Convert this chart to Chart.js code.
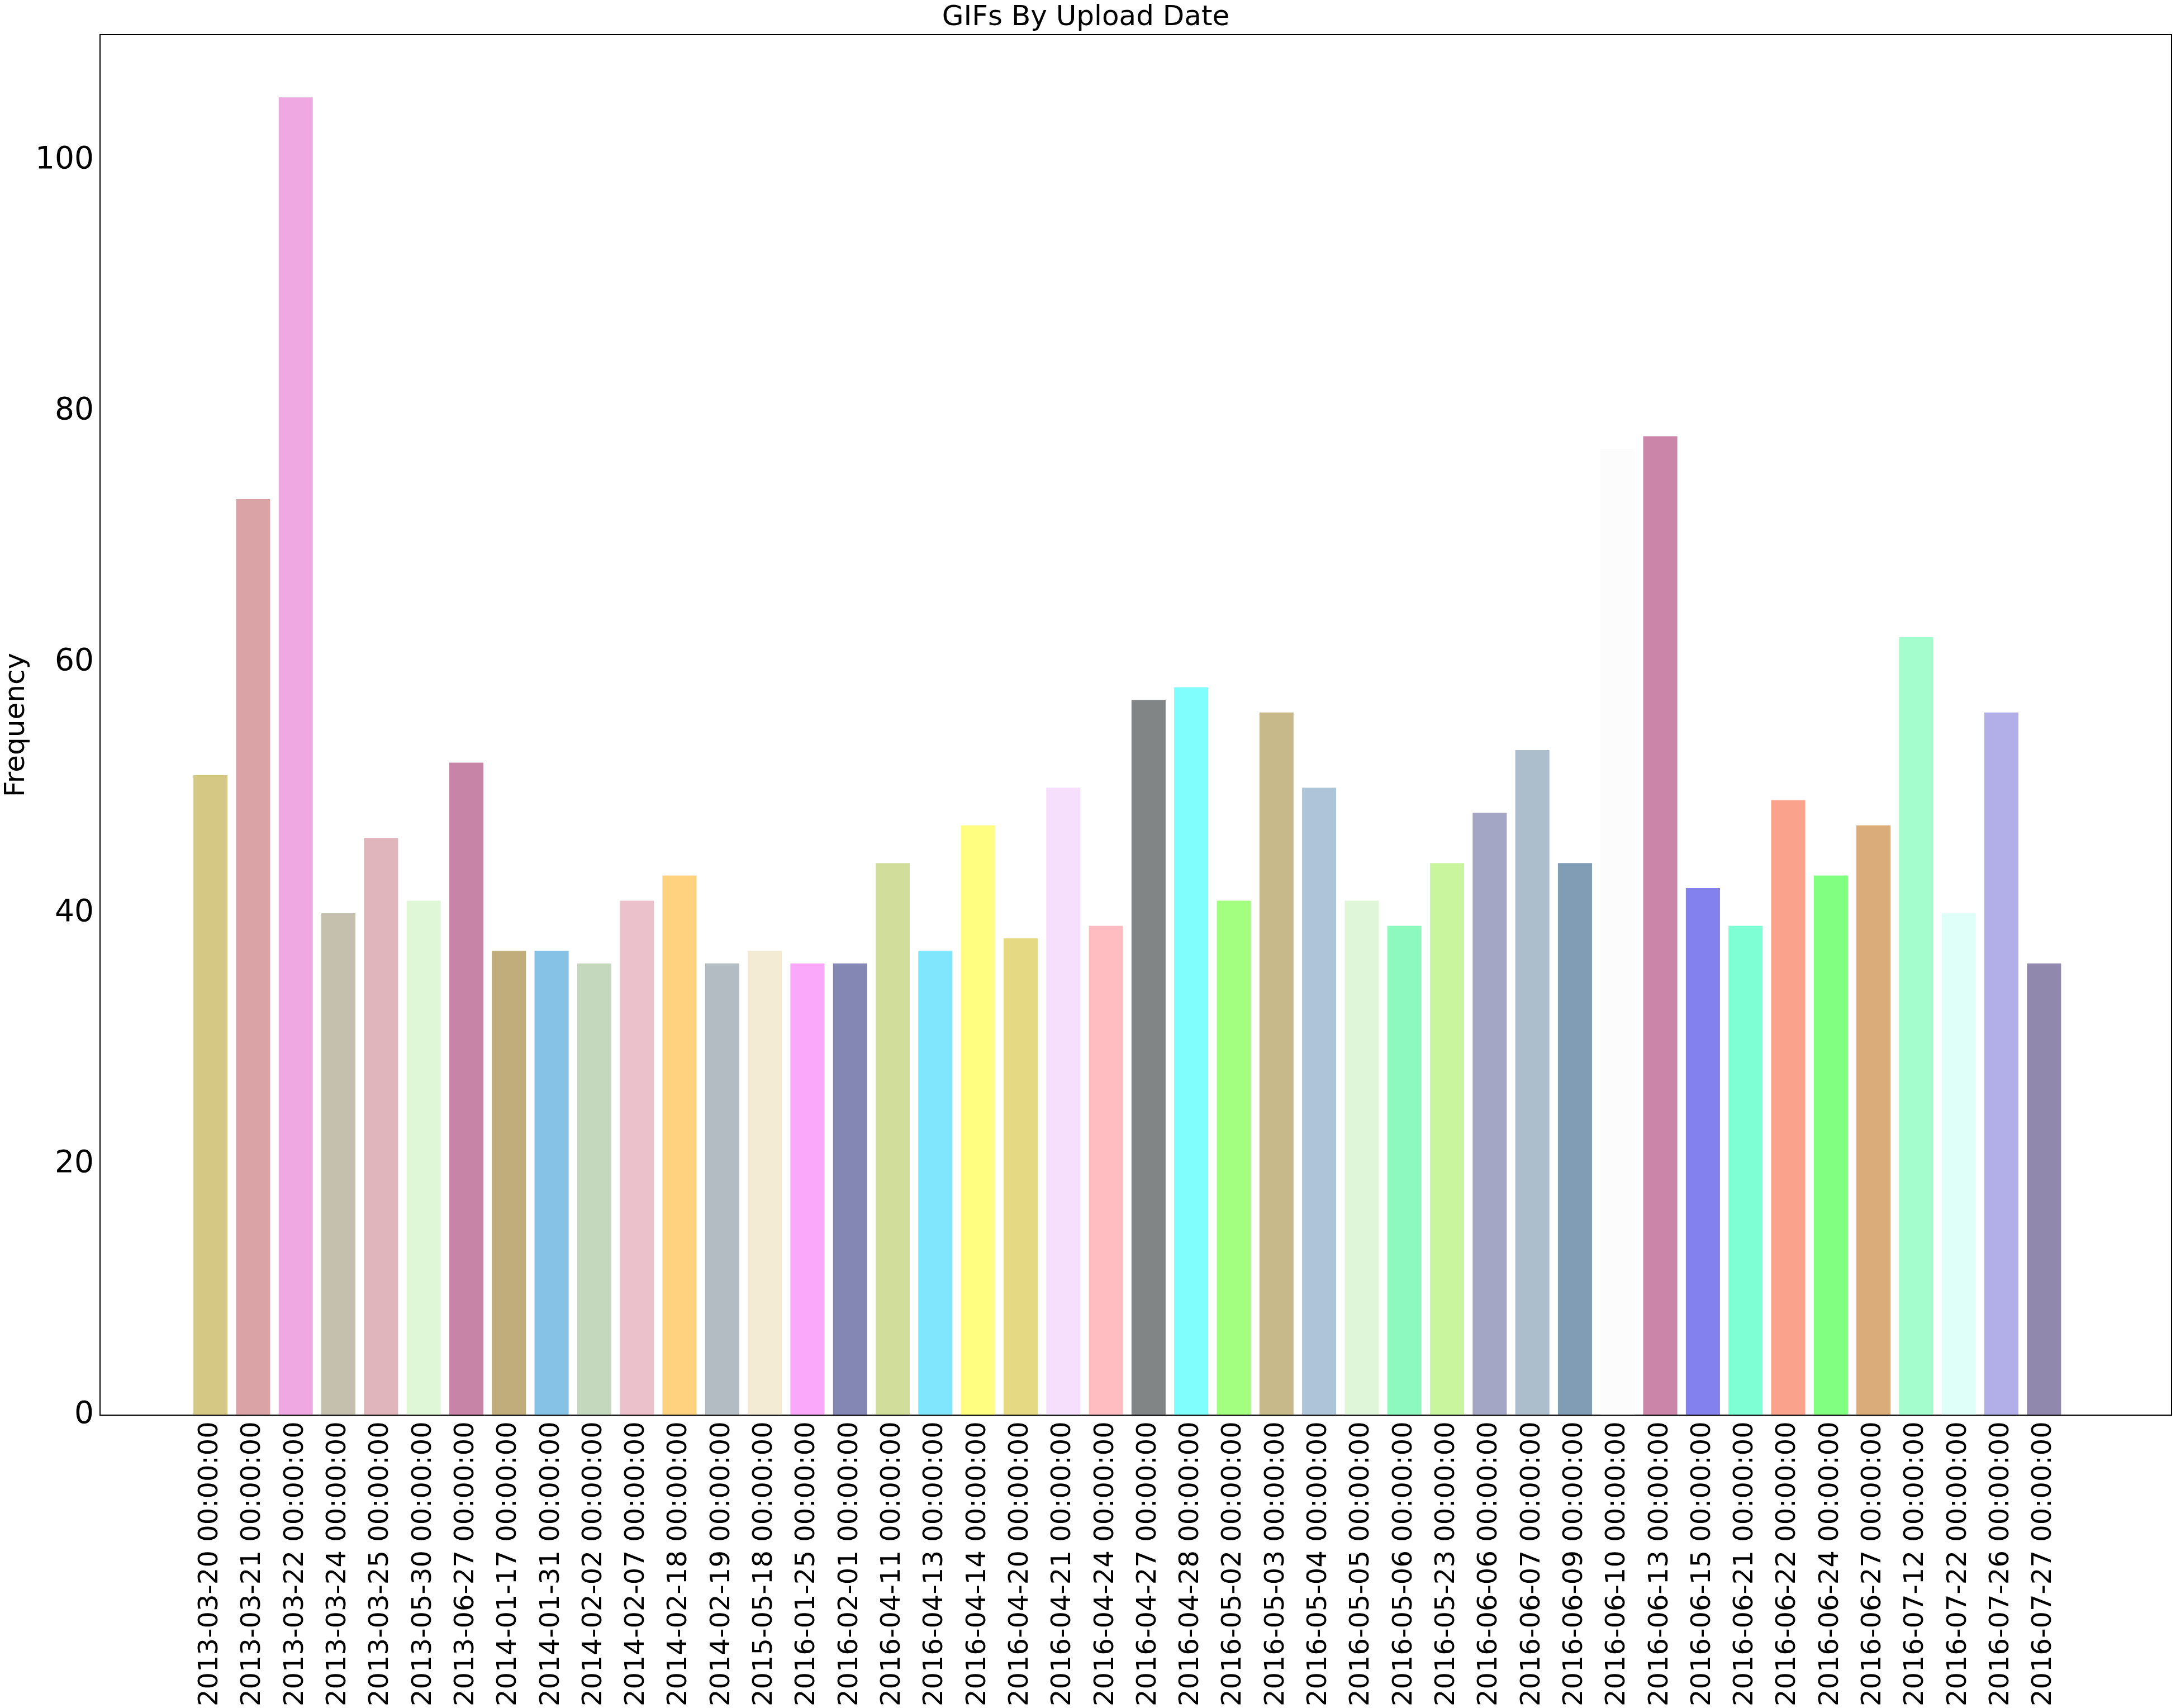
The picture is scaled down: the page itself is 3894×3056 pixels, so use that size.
<!DOCTYPE html>
<html><head><meta charset="utf-8">
<script src="https://cdn.jsdelivr.net/npm/chart.js@4"></script>
<style>html,body{margin:0;padding:0;background:#fff}#wrap{width:3894px;height:3056px}</style>
</head><body><div id="wrap"><canvas id="c"></canvas></div>
<script>
const categories = ["2013-03-20","2013-03-21","2013-03-22","2013-03-24","2013-03-25","2013-05-30","2013-06-27","2014-01-17","2014-01-31","2014-02-02","2014-02-07","2014-02-18","2014-02-19","2015-05-18","2016-01-25","2016-02-01","2016-04-11","2016-04-13","2016-04-14","2016-04-20","2016-04-21","2016-04-24","2016-04-27","2016-04-28","2016-05-02","2016-05-03","2016-05-04","2016-05-05","2016-05-06","2016-05-23","2016-06-06","2016-06-07","2016-06-09","2016-06-10","2016-06-13","2016-06-15","2016-06-21","2016-06-22","2016-06-24","2016-06-27","2016-07-12","2016-07-22","2016-07-26","2016-07-27"].map(d => d + " 00:00:00");
const frequency = [51,73,105,40,46,41,52,37,37,36,41,43,36,37,36,36,44,37,47,38,50,39,57,58,41,56,50,41,39,44,48,53,44,77,78,42,39,49,43,47,62,40,56,36];
const colors = ["#d5c884","#daa3a5","#efa8e2","#c5bfae","#e0b5bb","#dff7d6","#c884a6","#c0ad7b","#85c2e5","#c3d8bd","#ebc1cc","#ffd27f","#b4bcc3","#f3ebd4","#faa9fa","#8486b4","#d0dd9b","#80e6fe","#fffe81","#e6d983","#f6dffd","#ffbcc1","#818585","#80fefe","#a2ff80","#c7b98a","#aec4d8","#dff6d8","#8ef9be","#c9f59e","#a4a6c5","#acbdcc","#809db5","#fcfcfc","#cb85a8","#8281ed","#7fffd4","#faa28c","#80ff80","#d9ac7a","#a4fdcc","#dffff9","#b2aee8","#9189ad"];
const yTicks = [0,20,40,60,80,100];
const points = frequency.map((v, i) => ({ x: i, y: v }));
new Chart(document.getElementById('c'), {
  type: 'bar',
  data: { datasets: [{ data: points, backgroundColor: colors, borderWidth: 0, barPercentage: 0.8, categoryPercentage: 1.0 }] },
  options: {
    responsive: true, maintainAspectRatio: false, animation: false, devicePixelRatio: 1,
    layout: { padding: { top: 0, right: 8, left: 0, bottom: 0 } },
    plugins: { legend: { display: false }, tooltip: { enabled: false },
      title: { display: true, text: 'GIFs By Upload Date', color: '#000', font: { family: 'DejaVu Sans', size: 50, weight: 'normal' }, padding: { top: 2, bottom: 0 } } },
    scales: {
      x: { type: 'linear', min: -2.59, max: 45.99, offset: false,
        afterBuildTicks: ax => { ax.ticks = categories.map((c, i) => ({ value: i })); },
        grid: { display: false, drawTicks: true }, border: { color: '#000', width: 2 },
        ticks: { color: '#000', font: { family: 'DejaVu Sans', size: 48 }, maxRotation: 90, minRotation: 90, autoSkip: false,
          callback: v => categories[v] } },
      y: { min: 0, max: 110, afterBuildTicks: ax => { ax.ticks = yTicks.map(v => ({ value: v })); },
        grid: { display: false }, border: { color: '#000', width: 2 },
        title: { display: true, text: 'Frequency', color: '#000', font: { family: 'DejaVu Sans', size: 50 }, padding: 0 },
        ticks: { color: '#000', font: { family: 'DejaVu Sans', size: 55 } } }
    }
  },
  plugins: [{ id: 'box', afterDraw(ch) { const a = ch.chartArea, c = ch.ctx; c.save(); c.strokeStyle = '#000'; c.lineWidth = 2; c.strokeRect(a.left, a.top, a.right - a.left, a.bottom - a.top); c.restore(); } }]
});
</script></body></html>
